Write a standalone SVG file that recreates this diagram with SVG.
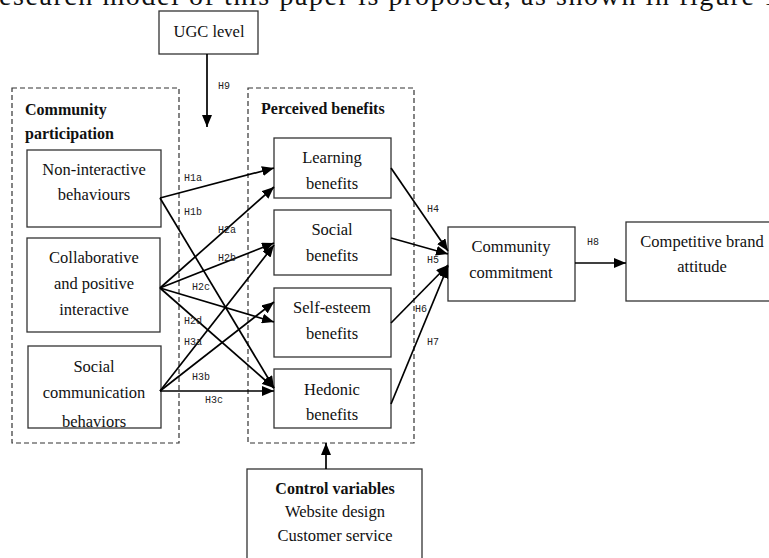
<svg xmlns="http://www.w3.org/2000/svg" width="769" height="558" viewBox="0 0 769 558">
<style>
  .box { fill: #fff; stroke: #333; stroke-width: 1.3; }
  .dash { fill: none; stroke: #333; stroke-width: 1.2; stroke-dasharray: 5 3; }
  .t { font-family: "Liberation Serif", "Times New Roman", serif; font-size: 16.5px; fill: #111; text-anchor: middle; }
  .b { font-family: "Liberation Serif", "Times New Roman", serif; font-size: 16px; font-weight: bold; fill: #111; }
  .h { font-family: "Liberation Mono", "Courier New", monospace; font-size: 10px; fill: #222; }
  .c { stroke: #000; stroke-width: 1.7; fill: none; marker-end: url(#ah); }
</style>
<defs>
  <marker id="ah" markerUnits="userSpaceOnUse" markerWidth="13" markerHeight="10" refX="12" refY="5" orient="auto">
    <path d="M0,0 L12,5 L0,10 Z" fill="#000"/>
  </marker>
  <clipPath id="scClip"><rect x="28" y="346" width="133" height="82"/></clipPath>
</defs>
<rect width="769" height="558" fill="#fff"/>

<text x="-12" y="5" font-family="Liberation Serif, serif" font-size="28" fill="#111" textLength="790" lengthAdjust="spacing">research model of this paper is proposed, as shown in figure 1</text>

<g id="ugc">
  <rect class="box" x="159" y="11" width="99" height="43"/>
  <text class="t" x="209" y="37">UGC level</text>
</g>

<g id="community-participation">
  <rect class="dash" x="12" y="88" width="167" height="355"/>
  <text class="b" x="25" y="115">Community</text>
  <text class="b" x="25" y="139">participation</text>
</g>

<g id="perceived-benefits">
  <rect class="dash" x="248" y="88" width="166" height="355"/>
  <text class="b" x="261" y="114">Perceived benefits</text>
</g>

<g id="non-interactive">
  <rect class="box" x="27" y="150" width="134" height="77"/>
  <text class="t" x="94" y="175">Non-interactive</text>
  <text class="t" x="94" y="200">behaviours</text>
</g>

<g id="collaborative">
  <rect class="box" x="27" y="238" width="133" height="94"/>
  <text class="t" x="94" y="263">Collaborative</text>
  <text class="t" x="94" y="289">and positive</text>
  <text class="t" x="94" y="315">interactive</text>
</g>

<g id="social-communication">
  <rect class="box" x="28" y="346" width="133" height="82"/>
  <g clip-path="url(#scClip)">
    <text class="t" x="94" y="372">Social</text>
    <text class="t" x="94" y="398">communication</text>
    <text class="t" x="94" y="427">behaviors</text>
  </g>
</g>

<g id="learning">
  <rect class="box" x="274" y="138" width="117" height="60"/>
  <text class="t" x="332" y="163">Learning</text>
  <text class="t" x="332" y="189">benefits</text>
</g>

<g id="social">
  <rect class="box" x="274" y="210" width="117" height="65"/>
  <text class="t" x="332" y="235">Social</text>
  <text class="t" x="332" y="261">benefits</text>
</g>

<g id="self-esteem">
  <rect class="box" x="274" y="288" width="117" height="69"/>
  <text class="t" x="332" y="313">Self-esteem</text>
  <text class="t" x="332" y="339">benefits</text>
</g>

<g id="hedonic">
  <rect class="box" x="274" y="369" width="117" height="59"/>
  <text class="t" x="332" y="395">Hedonic</text>
  <text class="t" x="332" y="420">benefits</text>
</g>

<g id="commitment">
  <rect class="box" x="448" y="227" width="127" height="74"/>
  <text class="t" x="511" y="252">Community</text>
  <text class="t" x="511" y="278">commitment</text>
</g>

<g id="brand-attitude">
  <rect class="box" x="626" y="222" width="160" height="79"/>
  <text class="t" x="702" y="247">Competitive brand</text>
  <text class="t" x="702" y="272">attitude</text>
</g>

<g id="control">
  <rect class="box" x="247" y="469" width="175" height="100"/>
  <text class="b" x="335" y="494" text-anchor="middle">Control variables</text>
  <text class="t" x="335" y="517">Website design</text>
  <text class="t" x="335" y="541">Customer service</text>
</g>

<g id="connectors">
  <line class="c" x1="207" y1="54" x2="207" y2="127"/>
  <line class="c" x1="160" y1="198" x2="274" y2="168"/>
  <line class="c" x1="160" y1="198" x2="274" y2="388"/>
  <line class="c" x1="160" y1="288" x2="274" y2="187"/>
  <line class="c" x1="160" y1="288" x2="274" y2="243"/>
  <line class="c" x1="160" y1="288" x2="274" y2="322"/>
  <line class="c" x1="160" y1="288" x2="274" y2="388"/>
  <line class="c" x1="160" y1="391" x2="274" y2="245"/>
  <line class="c" x1="160" y1="391" x2="274" y2="302"/>
  <line class="c" x1="160" y1="391" x2="274" y2="391"/>
  <line class="c" x1="391" y1="168" x2="448" y2="251"/>
  <line class="c" x1="391" y1="238" x2="448" y2="254"/>
  <line class="c" x1="391" y1="323" x2="448" y2="265"/>
  <line class="c" x1="391" y1="404" x2="448" y2="266"/>
  <line class="c" x1="575" y1="263" x2="626" y2="263"/>
  <line class="c" x1="326" y1="469" x2="326" y2="443"/>
</g>

<g id="labels">
  <text class="h" x="218" y="89">H9</text>
  <text class="h" x="184" y="181">H1a</text>
  <text class="h" x="184" y="215">H1b</text>
  <text class="h" x="218" y="233">H2a</text>
  <text class="h" x="218" y="261">H2b</text>
  <text class="h" x="192" y="290">H2c</text>
  <text class="h" x="184" y="324">H2d</text>
  <text class="h" x="184" y="345">H3a</text>
  <text class="h" x="192" y="380">H3b</text>
  <text class="h" x="205" y="403">H3c</text>
  <text class="h" x="427" y="212">H4</text>
  <text class="h" x="427" y="263">H5</text>
  <text class="h" x="415" y="312">H6</text>
  <text class="h" x="427" y="345">H7</text>
  <text class="h" x="587" y="245">H8</text>
</g>
</svg>
